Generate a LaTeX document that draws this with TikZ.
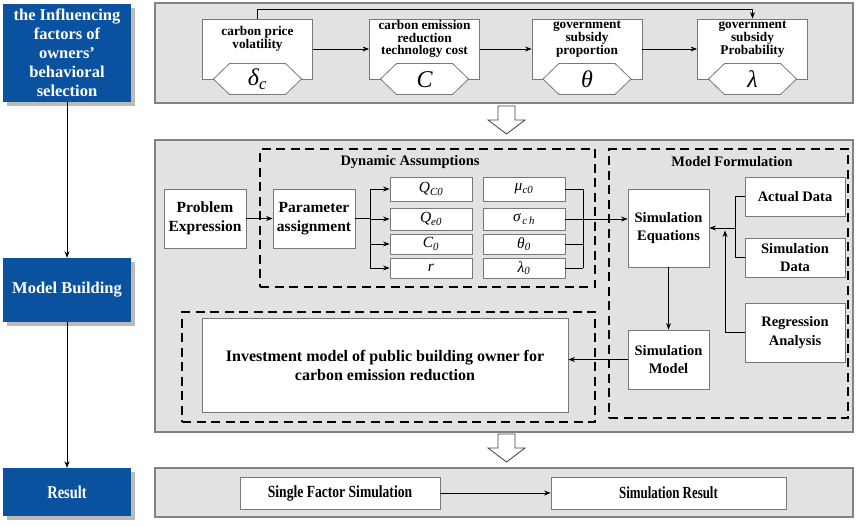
\documentclass[tikz,border=0pt]{standalone}
\usepackage{fontspec}
\setmainfont{Liberation Serif}
\usetikzlibrary{arrows.meta,shadows,calc}
\definecolor{phaseblue}{RGB}{10,82,160}
\definecolor{panelfill}{RGB}{226,226,226}
\definecolor{panelline}{RGB}{130,130,130}
\definecolor{boxline}{RGB}{120,120,120}
\newcommand\FS[2]{\fontsize{#1}{#2}\selectfont}
\newcommand\IT[2]{{\itshape #1\textsubscript{#2}}}
\begin{document}
\begin{tikzpicture}[x=1pt,y=-1pt,
  phase/.style={fill=phaseblue, text=white, align=center, inner sep=0pt,
    font=\bfseries\FS{16.5}{19},
    drop shadow={shadow xshift=4pt, shadow yshift=-4pt, fill=black!45, opacity=0.6}},
  panel/.style={fill=panelfill, draw=panelline, line width=1.3pt, inner sep=0pt},
  wbox/.style={fill=white, draw=boxline, line width=0.8pt, inner sep=0pt, align=center},
  toptext/.style={align=center, inner sep=0pt, font=\bfseries\FS{13.3}{12.8}},
  hexsym/.style={inner sep=0pt, font=\itshape\FS{24}{24}},
  bigtext/.style={font=\bfseries\FS{15.5}{19.5}},
  midtext/.style={font=\bfseries\FS{14.5}{18.5}},
  sbox/.style={wbox, minimum width=82pt, font=\FS{15.5}{15.5}},
  dashbox/.style={draw=black, line width=1.6pt, dash pattern=on 9pt off 5.5pt, inner sep=0pt},
  titletext/.style={inner sep=0pt, font=\bfseries\FS{14.5}{16}},
  arr/.style={-{Stealth[length=6.5pt,width=5pt]}, line width=0.8pt, black},
  ln/.style={line width=0.8pt, black},
  hollow/.style={fill=white, draw=black!75, line width=0.8pt}
]
\useasboundingbox (0,0) rectangle (858,525);

% ---- left phase column ----
\node[phase, minimum width=128pt, minimum height=98pt] (ph1) at (67,53)
  {the Influencing\\factors of\\owners’\\behavioral\\selection};
\node[phase, minimum width=128pt, minimum height=64pt] (ph2) at (67,290) {Model Building};
\node[phase, minimum width=128pt, minimum height=48pt, font=\bfseries\FS{18}{19}] (ph3) at (67,492)
  {\scalebox{0.8}[1]{Result}};
\draw[arr] (ph1.south) -- (ph2.north);
\draw[arr] (ph2.south) -- (ph3.north);

% ---- panels ----
\node[panel, minimum width=698pt, minimum height=100pt] (P1) at (504,53) {};
\node[panel, minimum width=698pt, minimum height=292pt] (P2) at (504,286) {};
\node[panel, minimum width=698pt, minimum height=49pt] (P3) at (504,492.5) {};

% ---- hollow arrows between panels ----
\foreach \yy in {106,434}{
  \filldraw[hollow] (498,\yy) -- (515,\yy) -- (515,\yy+14) -- (525,\yy+14)
     -- (506.5,\yy+28) -- (488,\yy+14) -- (498,\yy+14) -- cycle;
}

% ---- top panel factors ----
\foreach \i/\cx/\txt/\sym in {
  1/257.5/{carbon price\\volatility}/{δ\textsubscript{c}},
  2/424.5/{carbon emission\\reduction\\technology cost}/{C},
  3/587/{government\\subsidy\\proportion}/{θ},
  4/752.5/{government\\subsidy\\Probability}/{λ}}{
  \node[wbox, minimum width=110pt, minimum height=60pt] (r\i) at (\cx,49) {};
  \node[toptext] (t\i) at (\cx,39) {\txt};
  \filldraw[fill=white, draw=boxline, line width=0.8pt]
    (\cx-44,79) -- (\cx-28,63.5) -- (\cx+28,63.5) -- (\cx+44,79)
    -- (\cx+28,94.5) -- (\cx-28,94.5) -- cycle;
  \node[hexsym] (h\i) at (\cx,79.5) {\sym};
}
\draw[arr] (r1.east) -- (r2.west);
\draw[arr] (r2.east) -- (r3.west);
\draw[arr] (r3.east) -- (r4.west);
\draw[arr] (r1.north) -- ++(0,-9) -| (r4.north);

% ---- middle panel: dynamic assumptions ----
\node[dashbox, minimum width=335pt, minimum height=138pt] (da) at (427.5,218) {};
\node[titletext] (dat) at (410,162) {Dynamic Assumptions};
\node[wbox, bigtext, minimum width=82pt, minimum height=59pt] (pe) at (205,218.5) {Problem\\Expression};
\node[wbox, bigtext, minimum width=82pt, minimum height=59pt] (pa) at (314,218.5) {Parameter\\assignment};
\draw[arr] (pe.east) -- (pa.west);

\node[sbox, minimum height=24pt] (q1) at (431,189) {\IT{Q}{C0}};
\node[sbox, minimum height=22pt] (q2) at (431,219) {\IT{Q}{e0}};
\node[sbox, minimum height=20pt] (q3) at (431,244) {\IT{C}{0}};
\node[sbox, minimum height=20pt] (q4) at (431,268) {\itshape r};
\node[sbox, minimum height=24pt] (m1) at (524,189) {\IT{μ}{c0}};
\node[sbox, minimum height=22pt] (m2) at (524,219) {\IT{σ}{\,c\,h}};
\node[sbox, minimum height=20pt] (m3) at (524,244) {\IT{θ}{0}};
\node[sbox, minimum height=20pt] (m4) at (524,268) {\IT{λ}{0}};

\coordinate (fk) at (370,218.5);
\draw[ln] (pa.east) -- (fk);
\draw[ln] (fk |- q1.west) -- (fk |- q4.west);
\foreach \j in {1,2,3,4}{ \draw[arr] (fk |- q\j.west) -- (q\j.west); }

\coordinate (bs) at (583,219);
\foreach \j in {1,3,4}{ \draw[ln] (m\j.east) -- (bs |- m\j.east); }
\draw[ln] (bs |- m1.east) -- (bs |- m4.east);

% ---- model formulation ----
\node[dashbox, minimum width=239pt, minimum height=269pt] (mf) at (728.5,283.5) {};
\node[titletext] (mft) at (732,162) {Model Formulation};
\node[wbox, midtext, minimum width=81pt, minimum height=78pt] (se) at (668.5,228) {Simulation\\Equations};
\node[wbox, midtext, minimum width=100pt, minimum height=39pt] (ad) at (795,196.5) {Actual Data};
\node[wbox, midtext, minimum width=100pt, minimum height=39pt] (sd) at (795,257.5) {Simulation\\Data};
\node[wbox, midtext, minimum width=100pt, minimum height=59pt] (ra) at (795,332.5) {Regression\\Analysis};
\node[wbox, midtext, minimum width=81pt, minimum height=59pt] (sm) at (668.5,359.5) {Simulation\\Model};

\draw[arr] (m2.east) -- (m2.east -| se.west);

\coordinate (jn) at (735,228);
\draw[ln] (ad.west) -- (ad.west -| jn) -- (sd.west -| jn) -- (sd.west);
\draw[arr] (jn) -- (se.east);
\coordinate (up) at (725,230.5);
\draw[arr] (ra.west) -| (up);
\draw[arr] (se.south) -- (sm.north);

% ---- investment model ----
\node[dashbox, minimum width=413pt, minimum height=110pt] (im) at (388.5,367) {};
\node[wbox, font=\bfseries\FS{16}{19}, minimum width=366pt, minimum height=94pt] (ib) at (385,365)
  {Investment model of public building owner for\\carbon emission reduction};
\draw[arr] (sm.west) -- (sm.west -| ib.east);

% ---- bottom panel ----
\node[wbox, font=\bfseries\FS{17}{17}, minimum width=200pt, minimum height=32pt] (sf) at (340,493)
  {\scalebox{0.8}[1]{Single Factor Simulation}};
\node[wbox, font=\bfseries\FS{17}{17}, minimum width=235pt, minimum height=32pt] (sr) at (668.5,493)
  {\scalebox{0.76}[1]{Simulation Result}};
\draw[arr] (sf.east) -- (sr.west);
\end{tikzpicture}
\end{document}
